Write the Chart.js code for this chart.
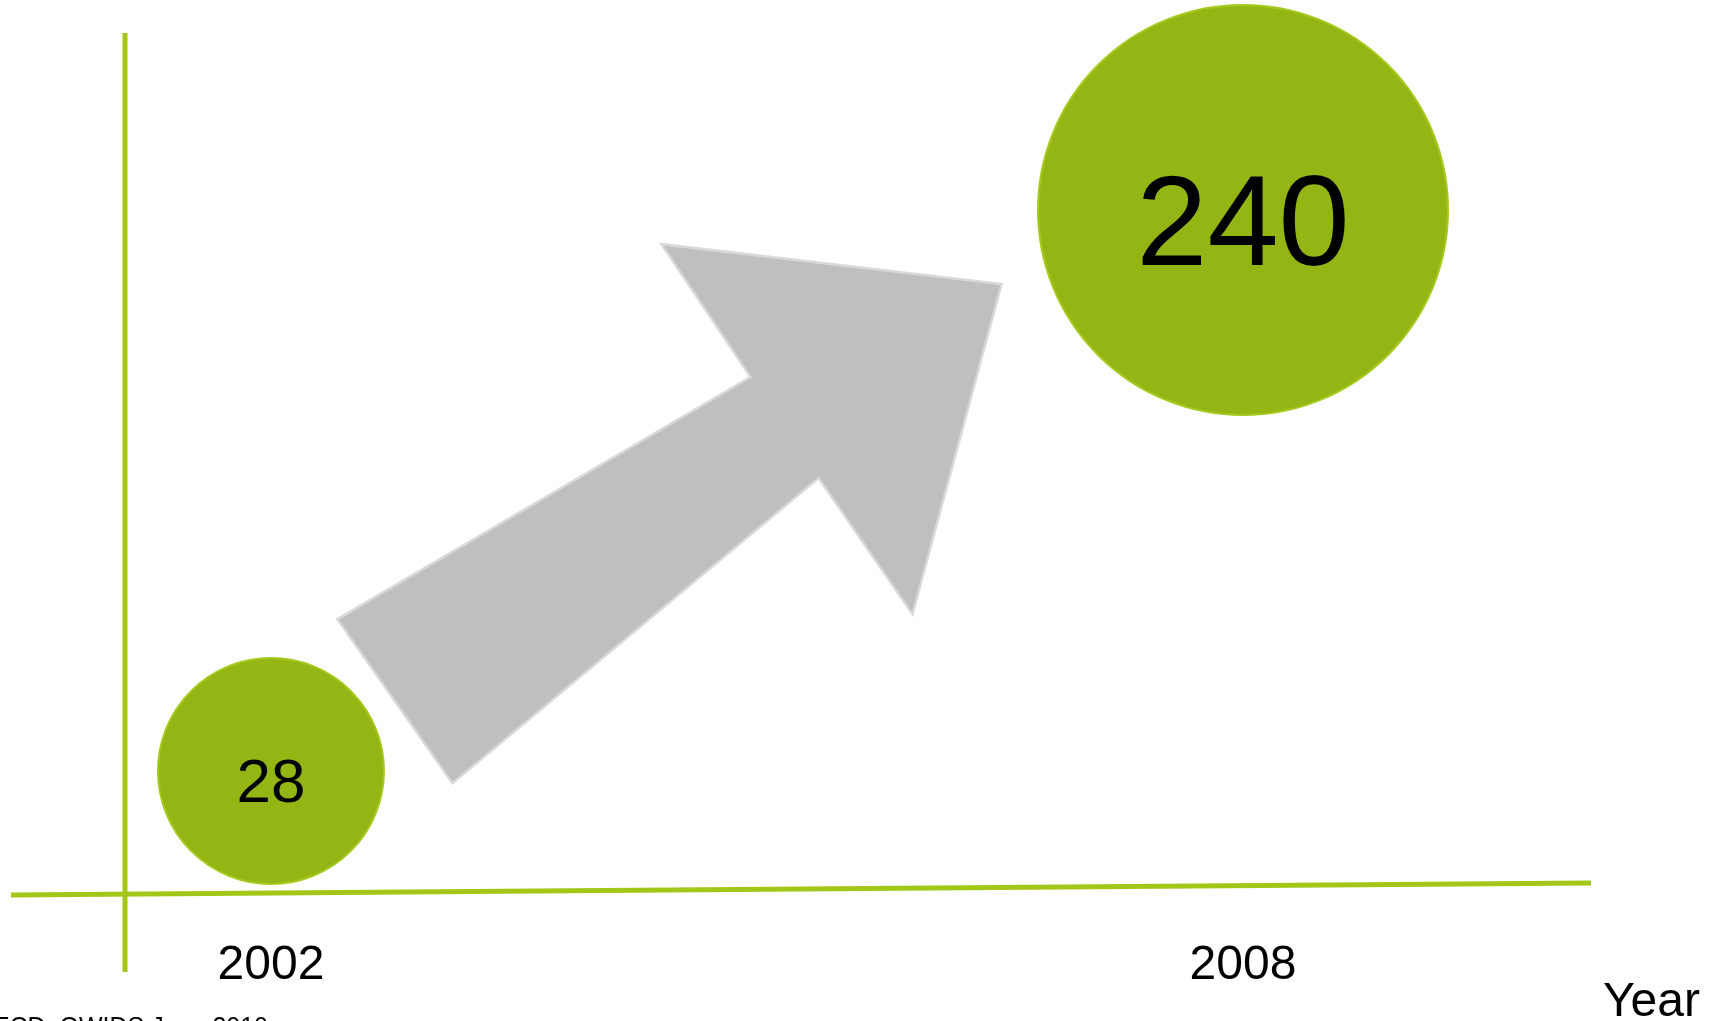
<!DOCTYPE html>
<html>
<head>
<meta charset="utf-8">
<title>2002 - 2008</title>
<script src="https://cdn.jsdelivr.net/npm/chart.js@4.4.0/dist/chart.umd.min.js"></script>
<style>
  html, body { margin: 0; padding: 0; background: #fff; }
  #wrap { width: 1727px; height: 1021px; position: relative; }
</style>
</head>
<body>
<div id="wrap"><canvas id="chart"></canvas></div>
<script>
// Data
const years = [2002, 2008];
const tickLabels = ['2002', '2008'];
const values = [28, 240];
const valueLabels = ['28', '240'];
const axisTitle = 'Year';
const sourceNote = 'Source: OECD, OWIDS June 2010';

// arrow outline, in chart units (year, value)
const arrowYears  = [2002.41, 2004.96, 2004.41, 2006.51, 2005.96, 2005.38, 2003.12];
const arrowValues = [85.4, 176.9, 227.1, 212.0, 87.3, 138.7, 23.4];

const FONT = "'Liberation Sans', Arial, sans-serif";
const GREEN_LINE = '#a3c719';
const GREEN_FILL = '#94b614';

function bubbleRadius(v) { return 100.85 + 0.434 * v; }

// Axis cross, arrow and notes
const decorPlugin = {
  id: 'decor',
  beforeDatasetsDraw(chart) {
    const { ctx, chartArea: a, scales } = chart;
    ctx.save();
    // axis lines
    ctx.strokeStyle = GREEN_LINE;
    ctx.lineWidth = 5;
    ctx.beginPath();
    ctx.moveTo(a.left, a.top);
    ctx.lineTo(a.left, a.bottom + 79);
    ctx.stroke();
    ctx.beginPath();
    ctx.moveTo(11, a.bottom + 2);
    ctx.lineTo(a.right, a.bottom - 10);
    ctx.stroke();

    // arrow
    ctx.beginPath();
    arrowYears.forEach((yr, i) => {
      const px = scales.x.getPixelForValue(yr);
      const py = scales.y.getPixelForValue(arrowValues[i]);
      if (i === 0) ctx.moveTo(px, py); else ctx.lineTo(px, py);
    });
    ctx.closePath();
    ctx.fillStyle = '#bfbfbf';
    ctx.fill();
    ctx.strokeStyle = '#d9d9d9';
    ctx.lineWidth = 2.5;
    ctx.lineJoin = 'miter';
    ctx.stroke();

    // axis title and source
    ctx.fillStyle = '#000';
    ctx.font = '48px ' + FONT;
    ctx.textAlign = 'left';
    ctx.textBaseline = 'alphabetic';
    ctx.fillText(axisTitle, 1603, 1016);
    ctx.font = '25px ' + FONT;
    ctx.textAlign = 'right';
    ctx.fillText(sourceNote, 268, 1035);
    ctx.restore();
  },
  afterDatasetsDraw(chart) {
    const { ctx } = chart;
    const meta = chart.getDatasetMeta(0);
    ctx.save();
    ctx.fillStyle = '#000';
    ctx.textAlign = 'center';
    ctx.textBaseline = 'alphabetic';
    meta.data.forEach((pt, i) => {
      const r = bubbleRadius(values[i]);
      const size = Math.round(0.717 * r - 19);
      ctx.font = size + 'px ' + FONT;
      ctx.fillText(valueLabels[i], pt.x, pt.y + 0.36 * size + 9);
    });
    ctx.restore();
  }
};

new Chart(document.getElementById('chart'), {
  type: 'bubble',
  data: {
    datasets: [{
      data: years.map((y, i) => ({ x: y, y: values[i] })),
      backgroundColor: GREEN_FILL,
      borderColor: '#a6c91d',
      borderWidth: 2,
      radius: ctx => bubbleRadius(values[ctx.dataIndex]),
      clip: false
    }]
  },
  options: {
    responsive: true,
    maintainAspectRatio: false,
    animation: false,
    events: [],
    layout: { autoPadding: false, padding: { left: 125, right: 136, top: 33, bottom: 27 } },
    plugins: { legend: { display: false }, tooltip: { enabled: false } },
    scales: {
      x: {
        type: 'linear',
        min: 2001.099,
        max: 2010.148,
        grid: { display: false },
        border: { display: false },
        afterBuildTicks: scale => { scale.ticks = years.map(v => ({ value: v })); },
        afterFit: scale => { scale.height = 101; },
        ticks: {
          padding: 36,
          color: '#000',
          font: { family: FONT, size: 48 },
          maxRotation: 0,
          callback: v => tickLabels[years.indexOf(v)]
        }
      },
      y: {
        display: false,
        min: -18.1,
        max: 306.9
      }
    }
  },
  plugins: [decorPlugin]
});
</script>
</body>
</html>
